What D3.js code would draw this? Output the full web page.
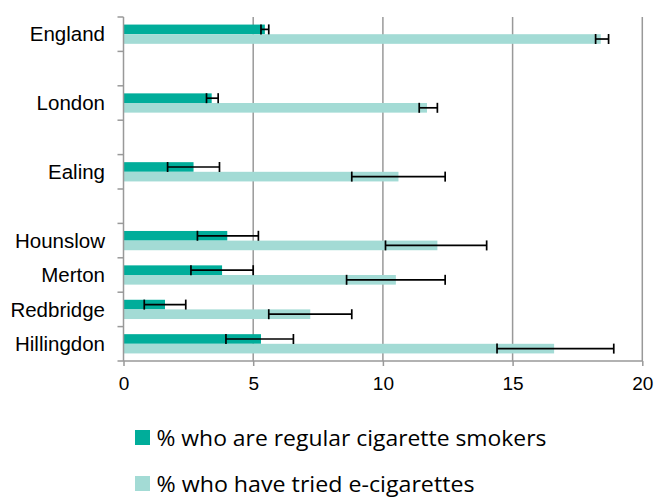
<!DOCTYPE html>
<html><head><meta charset="utf-8">
<script src="https://cdn.jsdelivr.net/npm/d3@7"></script>
<style>body{margin:0;background:#fff}svg{display:block}</style>
</head><body><svg id="c" width="657" height="497"></svg>
<script>
const categories = ["England","","London","","Ealing","","Hounslow","Merton","Redbridge","Hillingdon"];
const smokers   = [5.45, null, 3.4, null, 2.7, null, 4.0, 3.8, 1.6, 5.3];
const smokersLo = [5.3,  null, 3.2, null, 1.7, null, 2.85, 2.6, 0.8, 3.95];
const smokersHi = [5.6,  null, 3.65,null, 3.7, null, 5.2, 5.0, 2.4, 6.55];
const ecig      = [18.4, null, 11.7, null, 10.6, null, 12.1, 10.5, 7.2, 16.6];
const ecigLo    = [18.2, null, 11.4, null, 8.8, null, 10.1, 8.6, 5.6, 14.4];
const ecigHi    = [18.7, null, 12.1, null, 12.4, null, 14.0, 12.4, 8.8, 18.9];
const xTicks = [0,5,10,15,20];
const seriesNames = ["% who are regular cigarette smokers","% who have tried e-cigarettes"];
const colors = ["#00ad9a","#a3dbd5"];

const svg = d3.select("#c");
const L=123.5, R=642.3, T=17, B=361;
const x = d3.scaleLinear().domain([0,20]).range([L,R]);
const keys = categories.map((d,i)=>i);
const y = d3.scaleBand().domain(keys).range([T,B]).paddingInner(0).paddingOuter(0);
const bh = y.bandwidth()*0.28;
const axisFont = "'Liberation Sans', Arial, sans-serif";

// gridlines
svg.append("g").selectAll("line").data(xTicks.filter(d=>d>0)).join("line")
  .attr("x1",d=>x(d)).attr("x2",d=>x(d)).attr("y1",T).attr("y2",B)
  .attr("stroke","#999").attr("stroke-width",1.5);

// bars
const rows = keys.filter(i=>smokers[i]!=null);
const g = svg.append("g");
g.selectAll("rect.s").data(rows).join("rect")
  .attr("x",x(0)).attr("y",i=>y(i)+y.bandwidth()/2-bh)
  .attr("width",i=>x(smokers[i])-x(0)).attr("height",bh).attr("fill",colors[0]);
g.selectAll("rect.e").data(rows).join("rect")
  .attr("x",x(0)).attr("y",i=>y(i)+y.bandwidth()/2)
  .attr("width",i=>x(ecig[i])-x(0)).attr("height",bh).attr("fill",colors[1]);

// error bars
function errs(lo,hi,off){
  const eg = svg.append("g").attr("stroke","#000").attr("stroke-width",1.7);
  rows.forEach(i=>{
    const cy = y(i)+y.bandwidth()/2+off;
    eg.append("line").attr("x1",x(lo[i])).attr("x2",x(hi[i])).attr("y1",cy).attr("y2",cy);
    [lo[i],hi[i]].forEach(v=>eg.append("line").attr("x1",x(v)).attr("x2",x(v)).attr("y1",cy-5).attr("y2",cy+5));
  });
}
errs(smokersLo,smokersHi,-bh/2);
errs(ecigLo,ecigHi,bh/2);

// axes
const ax = svg.append("g").attr("transform",`translate(0,${B})`)
  .call(d3.axisBottom(x).tickValues(xTicks).tickSize(5).tickPadding(11).tickFormat(d3.format("d")));
ax.attr("font-family",axisFont).attr("font-size",19);
ax.select(".domain").attr("stroke","#999").attr("stroke-width",1.5).attr("d",`M${L},0H${R}`);
ax.selectAll(".tick line").attr("stroke","#999").attr("stroke-width",1.5);
ax.selectAll("text").attr("fill","#000");

const boundaries = d3.range(categories.length+1).map(i=>T+i*y.bandwidth());
const ay = svg.append("g").attr("font-family",axisFont).attr("font-size",20.5);
ay.append("line").attr("x1",L).attr("x2",L).attr("y1",T).attr("y2",B).attr("stroke","#999").attr("stroke-width",1.5);
ay.selectAll("line.t").data(boundaries).join("line").attr("class","t")
  .attr("x1",L-6).attr("x2",L).attr("y1",d=>d).attr("y2",d=>d).attr("stroke","#999").attr("stroke-width",1.5);
ay.selectAll("text").data(rows).join("text")
  .attr("x",105).attr("y",i=>y(i)+y.bandwidth()/2).attr("dy","0.35em")
  .attr("text-anchor","end").attr("fill","#000").text(i=>categories[i]);

// legend
const lg = svg.append("g").attr("font-family","'Open Sans', sans-serif").attr("font-size",21);
const legendW = [390, 318];
const legendY = [430, 476];
seriesNames.forEach((n,i)=>{
  const yy = legendY[i];
  lg.append("rect").attr("x",135).attr("y",yy).attr("width",15).attr("height",15).attr("fill",colors[i]);
  lg.append("text").attr("x",156.5).attr("y",yy+15.7).attr("fill","#000")
    .attr("textLength",legendW[i]).attr("lengthAdjust","spacingAndGlyphs").text(n);
});
</script></body></html>
